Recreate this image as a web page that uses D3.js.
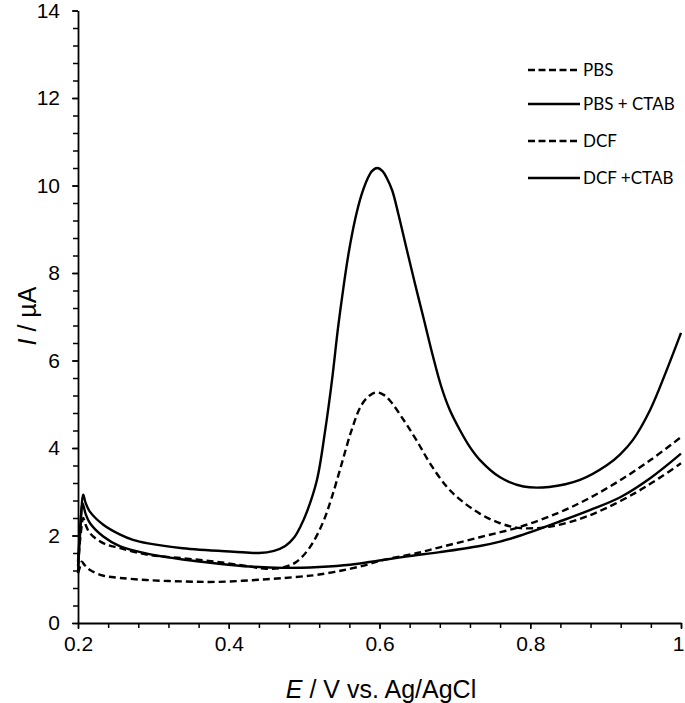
<!DOCTYPE html>
<html>
<head>
<meta charset="utf-8">
<script src="https://cdn.jsdelivr.net/npm/d3@7"></script>
<style>
  body { margin: 0; background: #fff; }
  svg text { fill: #000; }
</style>
</head>
<body>
<svg id="chart" width="685" height="703"></svg>
<script>
// values, [E (V), I (uA)]
const pbs = [
  [0.200, 1.14], [0.203, 1.30], [0.205, 1.40], [0.209, 1.32], [0.216, 1.21], [0.234, 1.08],
  [0.256, 1.03], [0.293, 0.98], [0.340, 0.95], [0.384, 0.94], [0.450, 1.00], [0.495, 1.06],
  [0.517, 1.10], [0.550, 1.20], [0.583, 1.33], [0.600, 1.42], [0.650, 1.60], [0.680, 1.73],
  [0.733, 1.96], [0.787, 2.20], [0.839, 2.53], [0.879, 2.86], [0.919, 3.26], [0.960, 3.73],
  [1.000, 4.25]
];
const pbsCtab = [
  [0.200, 1.40], [0.203, 2.20], [0.206, 2.74], [0.210, 2.50], [0.216, 2.28], [0.234, 1.97],
  [0.256, 1.75], [0.293, 1.58], [0.339, 1.45], [0.384, 1.36], [0.428, 1.29], [0.472, 1.26],
  [0.520, 1.28], [0.561, 1.33], [0.600, 1.43], [0.640, 1.53], [0.680, 1.62], [0.733, 1.76],
  [0.760, 1.86], [0.787, 2.00], [0.839, 2.32], [0.879, 2.58], [0.920, 2.88], [0.960, 3.32],
  [1.000, 3.87]
];
const dcf = [
  [0.200, 1.30], [0.204, 2.10], [0.207, 2.40], [0.210, 2.25], [0.216, 2.05], [0.234, 1.82],
  [0.256, 1.71], [0.293, 1.56], [0.339, 1.48], [0.384, 1.40], [0.428, 1.29], [0.450, 1.24],
  [0.472, 1.27], [0.490, 1.40], [0.508, 1.74], [0.525, 2.30], [0.537, 2.89], [0.550, 3.65],
  [0.563, 4.41], [0.576, 4.98], [0.587, 5.20], [0.596, 5.27], [0.605, 5.22], [0.614, 5.08],
  [0.632, 4.64], [0.649, 4.18], [0.667, 3.65], [0.689, 3.12], [0.707, 2.82], [0.733, 2.50],
  [0.760, 2.28], [0.787, 2.17], [0.825, 2.20], [0.866, 2.38], [0.900, 2.62], [0.940, 2.98],
  [0.970, 3.30], [1.000, 3.65]
];
const dcfCtab = [
  [0.200, 1.14], [0.203, 2.10], [0.207, 2.93], [0.210, 2.75], [0.216, 2.54], [0.234, 2.24],
  [0.256, 2.02], [0.273, 1.90], [0.293, 1.82], [0.339, 1.71], [0.406, 1.63], [0.440, 1.60],
  [0.460, 1.65], [0.475, 1.76], [0.487, 1.96], [0.495, 2.20], [0.503, 2.51], [0.517, 3.27],
  [0.528, 4.41], [0.537, 5.55], [0.545, 6.75], [0.552, 7.65], [0.559, 8.45], [0.568, 9.25],
  [0.576, 9.78], [0.584, 10.15], [0.590, 10.33], [0.597, 10.40], [0.604, 10.33], [0.610, 10.16],
  [0.617, 9.88], [0.625, 9.35], [0.636, 8.55], [0.647, 7.76], [0.658, 7.00], [0.671, 6.09],
  [0.682, 5.40], [0.693, 4.88], [0.707, 4.40], [0.720, 4.02], [0.733, 3.73], [0.760, 3.33],
  [0.791, 3.12], [0.825, 3.11], [0.866, 3.27], [0.902, 3.61], [0.919, 3.85], [0.936, 4.18],
  [0.959, 4.87], [0.981, 5.78], [1.000, 6.63]
];

const seriesNames = ["PBS", "PBS + CTAB", "DCF", "DCF +CTAB"];
const seriesData = [pbs, pbsCtab, dcf, dcfCtab];
const seriesDashed = [true, false, true, false];

const xTicks = [0.2, 0.4, 0.6, 0.8, 1];
const yTicks = [0, 2, 4, 6, 8, 10, 12, 14];

const svg = d3.select("#chart");

const x = d3.scaleLinear().domain([0.2, 1]).range([78, 681]);
const y = d3.scaleLinear().domain([0, 14]).range([623, 10.5]);

const tickFont = "Liberation Sans, Arial, sans-serif";

// minor ticks first, majors with labels on top
svg.append("g")
  .attr("transform", "translate(0," + y(0) + ")")
  .call(d3.axisBottom(x).tickValues(d3.range(0.2, 1.0001, 0.04)).tickSize(5).tickFormat(""))
  .call(g => g.select(".domain").remove())
  .call(g => g.selectAll("line").attr("stroke-width", 1.5));

svg.append("g")
  .attr("transform", "translate(" + x(0.2) + ",0)")
  .call(d3.axisLeft(y).tickValues(d3.range(0, 14.001, 0.4)).tickSize(5).tickFormat(""))
  .call(g => g.select(".domain").remove())
  .call(g => g.selectAll("line").attr("stroke-width", 1.5));

let xAxis = svg.append("g")
  .attr("transform", "translate(0," + y(0) + ")")
  .call(d3.axisBottom(x).tickValues(xTicks).tickSize(6).tickSizeOuter(0).tickPadding(7)
    .tickFormat(d => d === 1 ? "1" : d3.format(".1f")(d)));
xAxis.select(".domain").attr("stroke-width", 1.8);
xAxis.selectAll("line").attr("stroke-width", 1.5);
xAxis.selectAll("text").attr("font-family", tickFont).attr("font-size", 21);
// the last label sits on the window edge
xAxis.selectAll("text").filter(d => d === 1).attr("dx", -3);

let yAxis = svg.append("g")
  .attr("transform", "translate(" + x(0.2) + ",0)")
  .call(d3.axisLeft(y).tickValues(yTicks).tickSize(6).tickSizeOuter(0).tickPadding(12));
yAxis.select(".domain").attr("stroke-width", 1.8);
yAxis.selectAll("line").attr("stroke-width", 1.5);
yAxis.selectAll("text").attr("font-family", tickFont).attr("font-size", 21);

// axis titles
let xTitle = svg.append("text")
  .attr("x", 381).attr("y", 698)
  .attr("text-anchor", "middle")
  .attr("font-family", tickFont).attr("font-size", 25);
xTitle.append("tspan").attr("font-style", "italic").text("E");
xTitle.append("tspan").text(" / V vs. Ag/AgCl");

let yTitle = svg.append("text")
  .attr("transform", "translate(36,316) rotate(-90)")
  .attr("text-anchor", "middle")
  .attr("font-family", tickFont).attr("font-size", 25);
yTitle.append("tspan").attr("font-style", "italic").text("I");
yTitle.append("tspan").text(" / µA");

// curves
const line = d3.line()
  .x(d => x(d[0]))
  .y(d => y(d[1]))
  .curve(d3.curveCatmullRom.alpha(0.5));

svg.append("g").selectAll("path")
  .data(seriesData).enter()
  .append("path")
    .attr("d", line)
    .attr("fill", "none")
    .attr("stroke", "#000")
    .attr("stroke-width", 2.4)
    .attr("stroke-dasharray", (d, i) => seriesDashed[i] ? "7,4" : null);

// legend
const legendY = [70, 104, 141, 178];
let legend = svg.append("g").selectAll("g")
  .data(seriesNames).enter()
  .append("g")
    .attr("transform", (d, i) => "translate(0," + legendY[i] + ")");

legend.append("line")
  .attr("x1", 528).attr("x2", 580)
  .attr("stroke", "#000")
  .attr("stroke-width", 2.6)
  .attr("stroke-dasharray", (d, i) => seriesDashed[i] ? "7,3.5" : null);

legend.append("text")
  .attr("x", 583).attr("dy", "0.35em")
  .attr("font-family", "Lato, Carlito, sans-serif")
  .attr("font-size", 17)
  .text(d => d);
</script>
</body>
</html>
